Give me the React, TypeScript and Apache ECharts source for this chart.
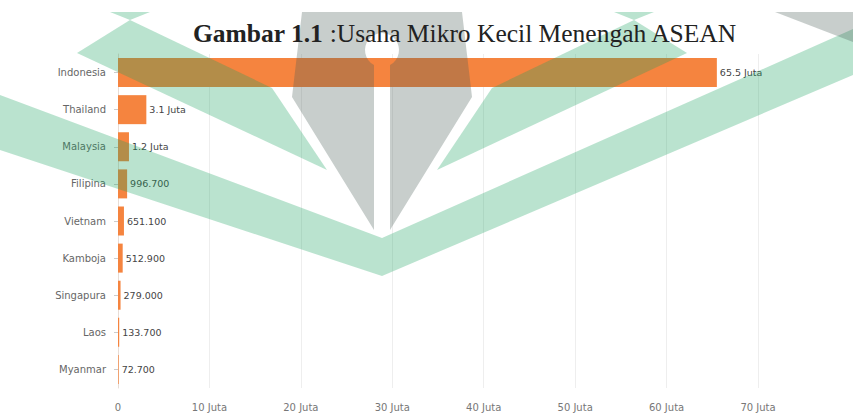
import React, { useEffect, useRef } from "react";
import * as echarts from "echarts";

const categories = ["Indonesia", "Thailand", "Malaysia", "Filipina", "Vietnam", "Kamboja", "Singapura", "Laos", "Myanmar"];
const valuesJuta = [65.5, 3.1, 1.2, 0.9967, 0.6511, 0.5129, 0.279, 0.1337, 0.0727];
const valueLabels = ["65.5 Juta", "3.1 Juta", "1.2 Juta", "996.700", "651.100", "512.900", "279.000", "133.700", "72.700"];

const GREEN = "#1aa260";
const GRAY = "#485c55";
const WM_OPACITY = 0.3;

function penPoints(): number[][] {
  const cx = 382, cy = 50, r = 17;
  const pts: number[][] = [[302, 12], [462, 12], [472, 97], [390, 230], [390, 65]];
  const start = Math.atan2(15, 8);
  const total = -(2 * Math.PI - (Math.PI - 2 * start));
  const steps = 24;
  for (let i = 0; i <= steps; i++) {
    const a = start + (total * i) / steps;
    pts.push([cx + r * Math.cos(a), cy + r * Math.sin(a)]);
  }
  pts.push([374, 65], [374, 230], [292, 97]);
  return pts;
}

export default function App() {
  const ref = useRef<HTMLDivElement>(null);
  useEffect(() => {
    document.body.style.margin = "0";
    if (!ref.current) return;
    const chart = echarts.init(ref.current, null, { renderer: "svg" });
    const wm = (points: number[][], color: string) => ({
      type: "polygon",
      z: 10,
      silent: true,
      shape: { points },
      style: { fill: color, opacity: WM_OPACITY },
    });
    chart.setOption({
      animation: false,
      backgroundColor: "#ffffff",
      title: {
        left: 193,
        top: 20,
        padding: 0,
        z: 30,
        text: "{b|Gambar 1.1} :Usaha Mikro Kecil Menengah ASEAN",
        textStyle: {
          fontFamily: "Liberation Serif",
          fontSize: 25.5,
          fontWeight: "normal",
          color: "#222",
          rich: {
            b: { fontFamily: "Liberation Serif", fontSize: 25.5, fontWeight: "bold", color: "#222" },
          },
        },
      },
      grid: { left: 118, right: 95, top: 54, bottom: 26, containLabel: false },
      xAxis: {
        type: "value",
        min: 0,
        max: 70,
        interval: 10,
        axisLine: { show: false },
        axisTick: { show: false },
        splitLine: { lineStyle: { color: "#eeeeee", width: 1 } },
        axisLabel: {
          margin: 14,
          fontFamily: "DejaVu Sans",
          fontSize: 10,
          color: "#777",
          formatter: (v: number) => (v === 0 ? "0" : `${v} Juta`),
        },
      },
      yAxis: {
        type: "category",
        inverse: true,
        data: categories,
        axisLine: { show: true, lineStyle: { color: "#e8ddd6" } },
        axisTick: { show: true, length: 4, alignWithLabel: true, lineStyle: { color: "#cccccc" } },
        axisLabel: { margin: 12, fontFamily: "DejaVu Sans", fontSize: 10, color: "#666" },
      },
      series: [
        {
          type: "bar",
          data: valuesJuta,
          barWidth: 29,
          itemStyle: { color: "#f5843f" },
          label: {
            show: true,
            position: "right",
            distance: 3,
            fontFamily: "DejaVu Sans",
            fontSize: 9.5,
            color: "#444",
            formatter: (p: any) => valueLabels[p.dataIndex],
          },
        },
      ],
      graphic: [
        wm([[0, 95], [382, 238], [853, 29], [853, 75], [382, 276], [0, 150]], GREEN),
        wm([[130, 20], [272, 88], [327, 170], [77, 53]], GREEN),
        wm([[634, 20], [492, 88], [437, 170], [687, 53]], GREEN),
        wm([[110, 12], [150, 12], [130, 20]], GREEN),
        wm([[614, 12], [654, 12], [634, 20]], GREEN),
        wm(penPoints(), GRAY),
        wm([[775, 12], [853, 12], [853, 42]], GRAY),
      ],
    });
    return () => chart.dispose();
  }, []);
  return <div ref={ref} style={{ width: 853, height: 414 }} />;
}
